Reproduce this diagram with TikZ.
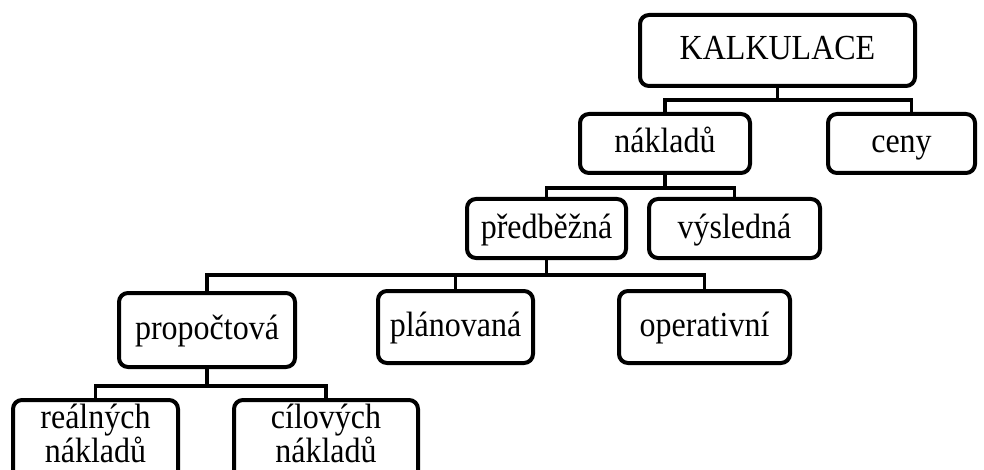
\documentclass[tikz,border=0pt]{standalone}
\usepackage{fontspec}
\usepackage{graphicx}
\setmainfont{Liberation Serif}
% slightly tall lettering
\newcommand{\tl}[1]{\scalebox{1}[1.1]{#1}}
\begin{document}
\begin{tikzpicture}[x=1pt,y=-1pt,
  box/.style={draw=black, line width=4pt, rounded corners=9pt, fill=white,
    inner sep=0pt, align=center, text height=24pt, text depth=5pt,
    font=\fontsize{32}{34}\selectfont},
  twoline/.style={text height=58pt, text depth=25pt},
  conn/.style={draw=black, line width=3.8pt}]
  \useasboundingbox (0,0) rectangle (984,470);
  \clip (0,0) rectangle (984,470);

  % connectors
  \coordinate (b1) at (777.5,100);
  \coordinate (b2) at (665,188);
  \coordinate (b3) at (546.5,275);
  \coordinate (b4) at (207,386);

  % boxes
  \node[box, minimum width=275pt, minimum height=71pt] (kalk) at (777.5,50.5) {\tl{KALKULACE}};
  \node[box, minimum width=170pt, minimum height=59pt] (nakl) at (665,143.5) {\tl{nákladů}};
  \node[box, minimum width=147pt, minimum height=59pt] (ceny) at (901.5,143.5) {\tl{ceny}};
  \node[box, minimum width=159pt, minimum height=59pt] (pred) at (546.5,228.5) {\tl{předběžná}};
  \node[box, minimum width=171pt, minimum height=59pt] (vysl) at (734.5,228.5) {\tl{výsledná}};
  \node[box, minimum width=176pt, minimum height=74pt] (prop) at (207,330) {\tl{propočtová}};
  \node[box, minimum width=155pt, minimum height=72pt] (plan) at (455.5,327) {\tl{plánovaná}};
  \node[box, minimum width=171pt, minimum height=72pt] (oper) at (704.5,327) {\tl{operativní}};
  \node[box, twoline, minimum width=165pt, minimum height=91pt] (real) at (95.5,445.5)
    {\tl{reálných}\\\tl{nákladů}};
  \node[box, twoline, minimum width=184pt, minimum height=91pt] (cilo) at (326,445.5)
    {\tl{cílových}\\\tl{nákladů}};

  \draw[conn] (kalk.south) -- (b1);
  \draw[conn] (nakl.north) |- (b1) -| ([xshift=10pt]ceny.north);
  \draw[conn] (nakl.south) -- (b2);
  \draw[conn] (pred.north) |- (b2) -| (vysl.north);
  \draw[conn] (pred.south) -- (b3);
  \draw[conn] (prop.north) |- (b3) -| (oper.north);
  \draw[conn] (b3 -| plan.north) -- (plan.north);
  \draw[conn] (prop.south) -- (b4);
  \draw[conn] (real.north) |- (b4) -| (cilo.north);
\end{tikzpicture}
\end{document}
